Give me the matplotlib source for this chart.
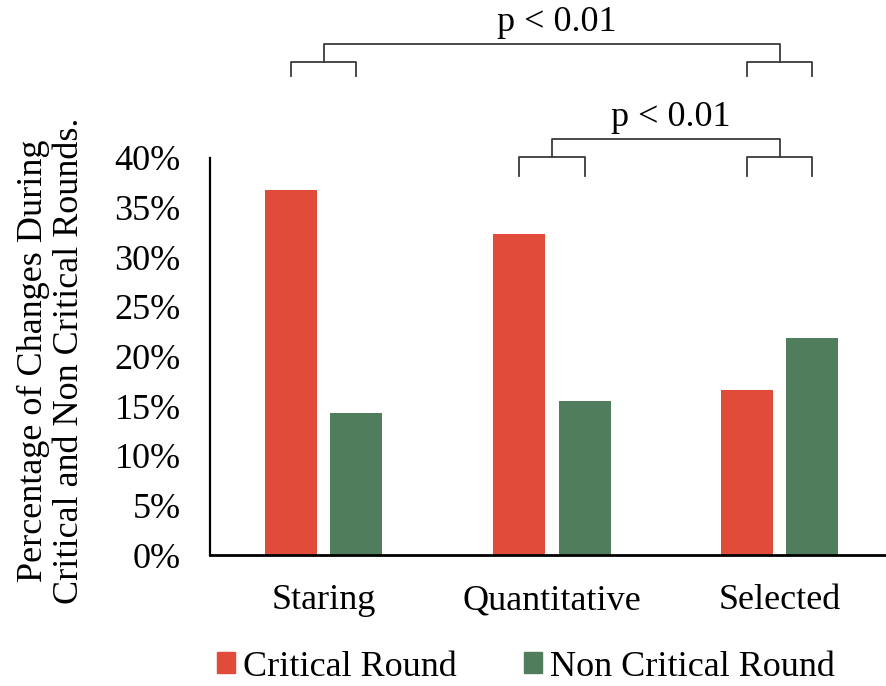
import matplotlib
matplotlib.use("Agg")
import matplotlib.pyplot as plt
from matplotlib.patches import Patch
import numpy as np

categories = ["Staring", "Quantitative", "Selected"]
critical = [36.8, 32.3, 16.6]
non_critical = [14.3, 15.5, 21.9]
yticks = [0, 5, 10, 15, 20, 25, 30, 35, 40]
ytick_labels = ["0%", "5%", "10%", "15%", "20%", "25%", "30%", "35%", "40%"]

plt.rcParams['font.family'] = ['Liberation Serif', 'DejaVu Serif']
FS = 26
red = "#E04B3A"
green = "#507D5B"

fig = plt.figure(figsize=(8.87, 6.86), dpi=100)
W, H = 887, 686
left, right, bottom, top = 210, 887, 555, 158
ax = fig.add_axes([left / W, 1 - bottom / H, (right - left) / W, (bottom - top) / H])

x = np.arange(len(categories))
bw = 52 / 228
off = 32.5 / 228
ax.bar(x - off, critical, bw, color=red, label="Critical Round")
ax.bar(x + off, non_critical, bw, color=green, label="Non Critical Round")

ax.set_xlim(-0.5, 2.5 - 7 / 228)
ax.set_ylim(0, 40)
ax.set_yticks(yticks)
ax.set_yticklabels(ytick_labels, fontsize=FS)
ax.set_xticks(x)
ax.set_xticklabels(categories, fontsize=FS)
ax.tick_params(axis='y', length=0, pad=21)
ax.tick_params(axis='x', length=0, pad=21)
for s in ["top", "right"]:
    ax.spines[s].set_visible(False)
ax.spines["left"].set_linewidth(1.6)
ax.spines["bottom"].set_linewidth(2.0)

# significance brackets
bc = "#3a3a3a"
lw = 1.3
def hook(xc, y_top, y_bot):
    ax.plot([xc - off, xc - off, xc + off, xc + off], [y_bot, y_top, y_top, y_bot],
            color=bc, lw=lw, clip_on=False)

def bracket(i, j, y_hook_top, y_hook_bot, y_bar, label):
    hook(i, y_hook_top, y_hook_bot)
    hook(j, y_hook_top, y_hook_bot)
    ax.plot([i, i, j, j], [y_hook_top, y_bar, y_bar, y_hook_top], color=bc, lw=lw, clip_on=False)
    ax.text((i + j) / 2 + 0.02, y_bar + 0.5, label, ha='center', va='bottom', fontsize=FS, clip_on=False)

bracket(0, 2, 49.7, 48.3, 51.5, "p < 0.01")
bracket(1, 2, 40.1, 38.2, 41.9, "p < 0.01")

# y label
fig.text(33 / W, 1 - 361 / H, "Percentage of Changes During", rotation=90,
         ha='center', va='center', fontsize=FS)
fig.text(70 / W, 1 - 361 / H, "Critical and Non Critical Rounds.", rotation=90,
         ha='center', va='center', fontsize=FS)

handles = [Patch(color=red, label="Critical Round"), Patch(color=green, label="Non Critical Round")]
fig.legend(handles=handles, loc='center left', bbox_to_anchor=(217 / W, 1 - 667 / H), ncol=2,
           frameon=False, fontsize=FS, handlelength=0.5, handleheight=0.5,
           handletextpad=0.22, columnspacing=1.85, borderpad=0, borderaxespad=0)

fig.savefig("out.png", dpi=100)
